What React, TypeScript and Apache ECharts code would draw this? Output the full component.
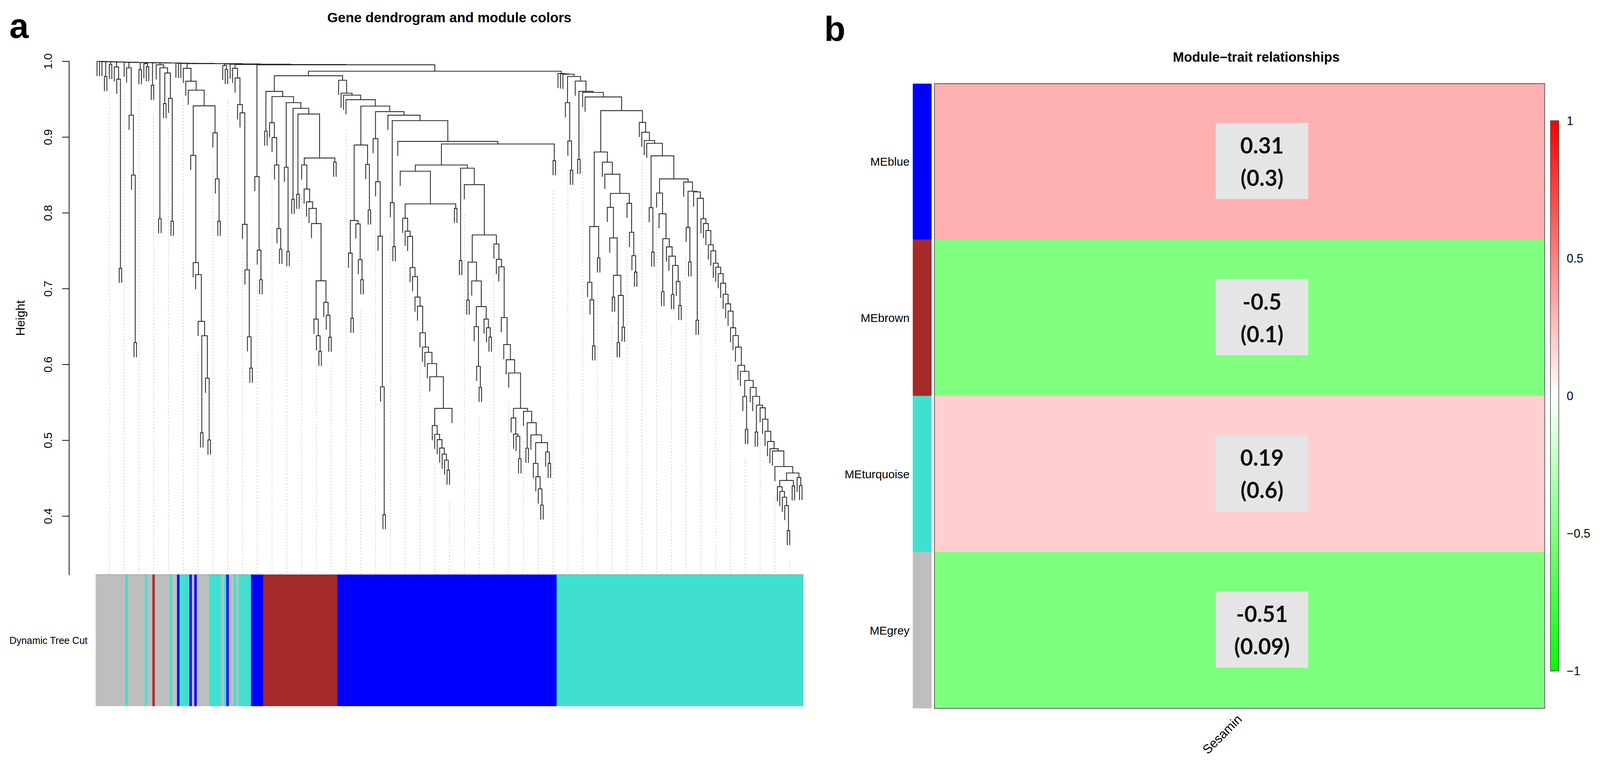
import React, { useEffect, useRef } from "react";
import * as echarts from "echarts";

// ---------- dendrogram data (merge heights; leaf = 0, merge = [height, left, right]) ----------
type Tree = 0 | [number, Tree, Tree];
const P = (h: number): Tree => [h, 0, 0];
function stair(heights: number[], tail: Tree, lefts?: Tree[]): Tree {
  let node: Tree = tail;
  for (let i = heights.length - 1; i >= 0; i--) node = [heights[i], lefts ? lefts[i] : 0, node];
  return node;
}

const HANG = 0.0193;
const Y_MIN = 0.3227;
const yTicks = [0.4, 0.5, 0.6, 0.7, 0.8, 0.9, 1.0];
const GUIDE_EVERY = 6;
const GUIDE_GAP = 0.02;

// unassigned / mixed region on the left
const a12: Tree = [0.9954, 0, [0.9915, P(0.7925), [0.9846, P(0.9443), stair([0.9512], P(0.789))]]];
const a14a: Tree = stair([0.876, 0.7344, 0.7187, 0.657], [0.638, P(0.51), stair([0.582], P(0.5005))]);
const a14b: Tree = stair([0.9057, 0.845], P(0.789));
const a14: Tree = stair([0.9908, 0.9738, 0.962], [0.9413, a14a, a14b]);
const a17: Tree = stair([0.9908, 0.978, 0.943, 0.932, 0.785, 0.725, 0.6366], P(0.5953));
const a18: Tree = stair([0.848, 0.751], P(0.712));
const combItems: Tree[] = [
  0, 0, 0, P(0.98), P(0.996), stair([0.9927, 0.9765], P(0.727)), 0,
  stair([0.9915, 0.929, 0.85], P(0.629)), P(0.989), stair([0.997], P(0.993)), P(0.9685),
  a12, 0, 0, 0, a14, stair([0.9945], P(0.9893)), 0, a17, a18,
];
const combHeights = [1.0, 0.9998, 0.9996, 0.9994, 0.9992, 0.999, 0.9988, 0.9986, 0.9984, 0.9982,
  0.998, 0.9978, 0.9976, 0.9974, 0.9972, 0.997, 0.9966, 0.9962, 0.9958, 0.9954];

// brown module
const brX2: Tree = stair([0.919, 0.8994, 0.8633, 0.7793], P(0.7522));
const brXD: Tree = [0.7105, stair([0.66, 0.638], P(0.6175)), stair([0.682, 0.665], P(0.636))];
const brX6: Tree = stair([0.8633, 0.8315, 0.8146, 0.806, 0.786], brXD);
const brownTree: Tree = stair([0.9604, 0.9535, 0.9455, 0.938, 0.9305, 0.8725], P(0.867),
  [P(0.908), brX2, stair([0.8603], P(0.749)), P(0.818), P(0.8247), brX6]);

// blue module
const bl1: Tree = [0.8896, [0.79, stair([0.747], P(0.661)), stair([0.7856, 0.7385], P(0.712))], stair([0.864], P(0.804))];
const bl2: Tree = stair([0.898, 0.8412, 0.7694, 0.5706], P(0.402));
const bl3: Tree = stair([0.8136], P(0.7556));
const bl4Ld: Tree = stair([0.5195, 0.508, 0.501, 0.4899, 0.482, 0.474], P(0.4608));
const bl4Lc: Tree = stair([0.793, 0.776, 0.769, 0.728, 0.716, 0.689, 0.677, 0.6419, 0.6231, 0.6161, 0.6013, 0.5839],
  [0.5422, bl4Ld, 0]);
const bl4L: Tree = stair([0.855], [0.812, bl4Lc, P(0.806)]);
const blRa: Tree = [0.7352, P(0.685), stair([0.7103], [0.6765, stair([0.65, 0.5977], P(0.57)), stair([0.66, 0.6485], P(0.6363))])];
const blRc: Tree = [0.5423, stair([0.5296, 0.5082, 0.5053], P(0.4758)),
  stair([0.5383], [0.5233, P(0.4897), stair([0.5072], [0.497, stair([0.4696, 0.452, 0.436], P(0.4147)), stair([0.4847], P(0.4697))])])];
const blRb: Tree = stair([0.759, 0.7387, 0.729, 0.662, 0.6263, 0.6064, 0.5889], blRc);
const blR: Tree = [0.859, P(0.7372), stair([0.8373], [0.771, blRa, blRb])];
const blueTree: Tree = stair([0.975, 0.958, 0.9554, 0.9494, 0.941, 0.9337, 0.9289, 0.9218, 0.8944, 0.891], P(0.869),
  [0, 0, 0, 0, bl1, bl2, 0, bl3, 0, [0.8633, bl4L, blR]]);

// turquoise module
const tq0: Tree = stair([0.9455, 0.895], P(0.8564));
const tq1a: Tree = [0.782, stair([0.7085, 0.6854], P(0.6247)), P(0.7407)];
const tq1c: Tree = stair([0.8074, 0.767], [0.7177, P(0.689), [0.6912, P(0.629), P(0.6495)]]);
const tq1d: Tree = stair([0.8127, 0.7745, 0.7437], P(0.722));
const tq1: Tree = [0.8804, tq1a, stair([0.867, 0.8511], [0.8258, tq1c, tq1d])];
const tq2c: Tree = stair([0.8263, 0.799], [0.766, P(0.6963), stair([0.7552, 0.743], [0.7308, P(0.6924), stair([0.7096], P(0.6779))])]);
const tqBottom: Tree = [0.457, [0.4471, stair([0.4389, 0.4326, 0.425, 0.414], P(0.381)), P(0.44)], stair([0.451], P(0.4405))];
const tqMid: Tree = stair([0.5697, 0.558], [0.5464, P(0.511), stair([0.543, 0.528, 0.512, 0.4985, 0.489, 0.486, 0.4655], tqBottom)]);
const tqDeep: Tree = stair([0.6485, 0.6383, 0.623, 0.599, 0.591], [0.579, stair([0.558], P(0.5146)), tqMid]);
const tqStair: Tree = stair([0.7924, 0.786, 0.7768, 0.758, 0.75, 0.7338, 0.7285, 0.72, 0.7073, 0.6928, 0.6801, 0.6705], tqDeep);
const tq2d: Tree = stair([0.8408], [0.8286, stair([0.781], P(0.7354)), stair([0.8277], [0.8194, P(0.6585), tqStair])]);
const tq2: Tree = stair([0.9195, 0.9064, 0.8955, 0.8919], [0.8753, stair([0.807], P(0.7483)), [0.8449, tq2c, tq2d]]);
const turquoiseTree: Tree = stair([0.984, 0.9835, 0.983, 0.98, 0.974, 0.9604, 0.959, 0.953], [0.935, tq1, tq2],
  [0, 0, 0, tq0, 0, P(0.8707), 0, 0]);

const moduleJoinHeights = [0.981, 0.987]; // brown+blue, then + turquoise

// module colours of the leading mixed region, in leaf order
const leadingRuns: [string, number][] = [
  ["grey", 12], ["turquoise", 1], ["grey", 7], ["turquoise", 1], ["grey", 2], ["brown", 1], ["grey", 6],
  ["turquoise", 1], ["grey", 2], ["blue", 1], ["turquoise", 4], ["blue", 1], ["grey", 1], ["blue", 1],
  ["grey", 5], ["turquoise", 5], ["grey", 1], ["turquoise", 1], ["blue", 1], ["grey", 2], ["turquoise", 1],
  ["grey", 1], ["turquoise", 5], ["blue", 5],
];
const colorNames = ["grey", "turquoise", "brown", "blue"];
const colorHex = ["#BEBEBE", "#40E0D0", "#A52A2A", "#0000FF"];

// ---------- module–trait heatmap data ----------
const modules = ["MEblue", "MEbrown", "MEturquoise", "MEgrey"];
const moduleStripColors = ["blue", "brown", "turquoise", "grey"];
const traits = ["Sesamin"];
const correlations = [0.31, -0.5, 0.19, -0.51];
const pValues = ["0.3", "0.1", "0.6", "0.09"];
const legendTicks = [-1, -0.5, 0, 0.5, 1];

function countLeaves(t: Tree): number {
  return t === 0 ? 1 : countLeaves(t[1]) + countLeaves(t[2]);
}

function layoutTree(root: Tree) {
  const links: number[][] = [];
  const leafBottoms: number[] = [];
  let counter = 0;
  const walk = (node: Tree, parentH: number): { x: number; y: number } => {
    if (node === 0) {
      counter += 1;
      const y = parentH - HANG;
      leafBottoms.push(y);
      return { x: counter, y };
    }
    const [h, l, r] = node;
    const a = walk(l, h);
    const b = walk(r, h);
    links.push([a.x, b.x, h, a.y, b.y]);
    return { x: (a.x + b.x) / 2, y: h };
  };
  walk(root, 1);
  return { links, leafBottoms, count: counter };
}

const SANS = "'Liberation Sans', Arial, Helvetica, sans-serif";
const REF_W = 4426;
const REF_H = 1986;

export default function App() {
  const ref = useRef<HTMLDivElement>(null);
  const SX = window.innerWidth / REF_W;
  const SY = window.innerHeight / REF_H;
  useEffect(() => {
    document.body.style.margin = "0";
    document.body.style.overflow = "hidden";
    if (!ref.current) return;
    const chart = echarts.init(ref.current, undefined, { renderer: "svg" });
    const zx = (v: number) => v * SX;
    const zy = (v: number) => v * SY;
    const zf = (v: number) => v * Math.min(SX, SY);

    const big: Tree = [moduleJoinHeights[1], [moduleJoinHeights[0], brownTree, blueTree], turquoiseTree];
    let root: Tree = big;
    for (let i = combItems.length - 1; i >= 0; i--) root = [combHeights[i], combItems[i], root];
    const { links, leafBottoms, count } = layoutTree(root);

    const runs: [string, number][] = [
      ...leadingRuns,
      ["brown", countLeaves(brownTree)],
      ["blue", countLeaves(blueTree)],
      ["turquoise", countLeaves(turquoiseTree)],
    ];
    const barData: number[][] = [];
    let cum = 0;
    runs.forEach(([c, n]) => {
      barData.push([cum + 0.5, cum + n + 0.5, colorNames.indexOf(c)]);
      cum += n;
    });

    const guides: number[][] = [];
    for (let i = GUIDE_EVERY; i <= count; i += GUIDE_EVERY) guides.push([i, leafBottoms[i - 1] - GUIDE_GAP]);

    const option: any = {
      animation: false,
      backgroundColor: "#ffffff",
      title: [
        { text: "a", left: zx(26), top: zy(22), padding: 0, textStyle: { fontSize: zf(96), fontWeight: "bold", fontFamily: SANS, color: "#000" } },
        { text: "b", left: zx(2280), top: zy(30), padding: 0, textStyle: { fontSize: zf(96), fontWeight: "bold", fontFamily: SANS, color: "#000" } },
        { text: "Gene dendrogram and module colors", left: zx(1243), top: zy(27), padding: 0, textAlign: "center",
          textStyle: { fontSize: zf(38), fontWeight: "bold", fontFamily: SANS, color: "#000" } },
        { text: "Module\u2212trait relationships", left: zx(3475), top: zy(129), padding: 0, textAlign: "center",
          textStyle: { fontSize: zf(37), fontWeight: "bold", fontFamily: SANS, color: "#000" } },
      ],
      grid: [
        { left: zx(265), top: zy(157), width: zx(1957), height: zy(1314) },
        { left: zx(265), top: zy(1471), width: zx(1957), height: zy(336) },
        { left: zx(2585), top: zy(214), width: zx(1688), height: zy(1599), show: true, borderColor: "#555", borderWidth: zf(2), backgroundColor: "transparent", z: 5 },
        { left: zx(2525), top: zy(214), width: zx(52), height: zy(1599) },
        { left: zx(4289), top: zy(309), width: zx(23), height: zy(1408), show: true, borderColor: "#333", borderWidth: zf(1.5), backgroundColor: "transparent", z: 10 },
      ],
      xAxis: [
        { gridIndex: 0, type: "value", min: 0.5, max: count + 0.5, show: false },
        { gridIndex: 1, type: "value", min: 0.5, max: count + 0.5, position: "top",
          axisLine: { show: true, lineStyle: { color: "#7a7a7a", width: zf(2) } },
          axisTick: { show: false }, axisLabel: { show: false }, splitLine: { show: false } },
        { gridIndex: 2, type: "category", data: traits, position: "bottom",
          axisLine: { show: false }, axisTick: { show: false },
          axisLabel: { rotate: 45, margin: zy(22), fontSize: zf(35), fontFamily: SANS, color: "#000" } },
        { gridIndex: 3, type: "value", min: 0, max: 1, show: false },
        { gridIndex: 4, type: "value", min: 0, max: 1, show: false },
      ],
      yAxis: [
        { gridIndex: 0, type: "value", min: Y_MIN, max: 1.0, offset: zx(74),
          axisLine: { show: true, lineStyle: { color: "#000", width: zf(2) } },
          axisTick: { show: true, length: zx(19), customValues: yTicks, lineStyle: { color: "#000", width: zf(2) } },
          axisLabel: { customValues: yTicks, rotate: 90, margin: zx(42), fontSize: zf(32), fontFamily: SANS, color: "#000",
            formatter: (v: number) => v.toFixed(1) },
          splitLine: { show: false },
          name: "Height", nameLocation: "middle", nameRotate: 90, nameGap: zx(118),
          nameTextStyle: { fontSize: zf(34), fontFamily: SANS, color: "#000" } },
        { gridIndex: 1, type: "category", data: ["Dynamic Tree Cut"],
          axisLine: { show: false }, axisTick: { show: false },
          axisLabel: { margin: zx(23), fontSize: zf(27), fontFamily: SANS, color: "#000" } },
        { gridIndex: 2, type: "category", data: modules, inverse: true, show: false },
        { gridIndex: 3, type: "category", data: modules, inverse: true,
          axisLine: { show: false }, axisTick: { show: false },
          axisLabel: { margin: zx(9), fontSize: zf(32), fontFamily: SANS, color: "#000" } },
        { gridIndex: 4, type: "value", min: -1, max: 1, interval: 0.5, position: "right",
          axisLine: { show: false },
          axisTick: { show: true, length: zx(9), lineStyle: { color: "#333", width: zf(1.5) } },
          axisLabel: { margin: zx(22), fontSize: zf(33), fontFamily: SANS, color: "#000",
            formatter: (v: number) => String(legendTicks[legendTicks.indexOf(v)]).replace("-", "\u2212") },
          splitLine: { show: false } },
      ],
      visualMap: {
        type: "continuous", min: -1, max: 1, seriesIndex: 3, dimension: 2, show: true,
        left: zx(4289), top: zy(309), itemWidth: zx(23), itemHeight: zy(1408), padding: 0, calculable: false,
        inRange: { color: ["#00FF00", "#FFFFFF", "#FF0000"] },
      },
      series: [
        {
          type: "custom", xAxisIndex: 0, yAxisIndex: 0, data: guides, silent: true, clip: false,
          encode: { x: 0, y: 1 },
          renderItem: (params: any, api: any) => {
            const top = api.coord([api.value(0), api.value(1)]);
            const bottom = api.coord([api.value(0), Y_MIN]);
            return { type: "line", shape: { x1: top[0], y1: top[1], x2: bottom[0], y2: bottom[1] },
              style: { stroke: "#c6c6c6", lineWidth: zf(1.6), lineDash: [zf(4), zf(5)] } };
          },
        },
        {
          type: "custom", xAxisIndex: 0, yAxisIndex: 0, data: links, silent: true, clip: false,
          encode: { x: [0, 1], y: [2, 3, 4] },
          renderItem: (params: any, api: any) => {
            const p1 = api.coord([api.value(0), api.value(3)]);
            const p2 = api.coord([api.value(0), api.value(2)]);
            const p3 = api.coord([api.value(1), api.value(2)]);
            const p4 = api.coord([api.value(1), api.value(4)]);
            return { type: "polyline", shape: { points: [p1, p2, p3, p4] },
              style: { stroke: "#262626", lineWidth: zf(2.3), fill: "none" } };
          },
        },
        {
          type: "custom", xAxisIndex: 1, yAxisIndex: 1, data: barData, silent: true,
          encode: { x: [0, 1] },
          renderItem: (params: any, api: any) => {
            const cs = params.coordSys;
            const x0 = api.coord([api.value(0), 0])[0];
            const x1 = api.coord([api.value(1), 0])[0];
            const c = colorHex[api.value(2)];
            return { type: "rect", shape: { x: x0, y: cs.y, width: x1 - x0, height: cs.height },
              style: { fill: c, stroke: c, lineWidth: zf(0.6) } };
          },
        },
        {
          type: "heatmap", xAxisIndex: 2, yAxisIndex: 2,
          data: correlations.map((v, i) => [0, i, v]),
          emphasis: { disabled: true },
          label: {
            show: true, position: "inside", offset: [zx(62), zy(-2)],
            backgroundColor: "#E5E5E5", padding: [zy(15), 0, zy(14), 0],
            formatter: (p: any) => `{v|${correlations[p.data[1]]}}\n{v|(${pValues[p.data[1]]})}`,
            rich: { v: { width: zx(256), align: "center", fontFamily: "Lato, 'Open Sans', sans-serif", fontWeight: "bold",
              fontSize: zf(61), lineHeight: zy(83), color: "#111" } },
          },
        },
        {
          type: "bar", xAxisIndex: 3, yAxisIndex: 3, barWidth: "100%", silent: true,
          data: moduleStripColors.map((c) => ({ value: 1, itemStyle: { color: colorHex[colorNames.indexOf(c)] } })),
        },
      ],
    };
    chart.setOption(option);
    return () => chart.dispose();
  }, [SX, SY]);
  return <div ref={ref} style={{ width: Math.floor(REF_W * SX), height: Math.floor(REF_H * SY) }} />;
}
